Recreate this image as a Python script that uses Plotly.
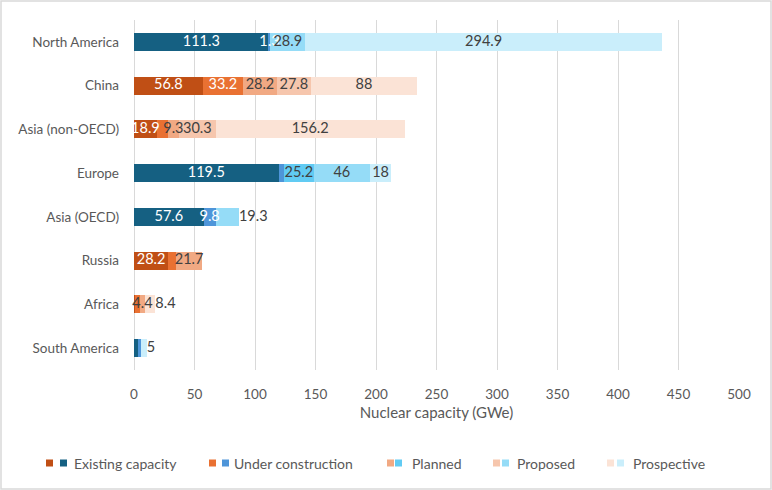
import plotly.graph_objects as go

# regions top to bottom, with the colour family Excel used for each
regions = ["North America", "China", "Asia (non-OECD)", "Europe",
           "Asia (OECD)", "Russia", "Africa", "South America"]
family = ["blue", "orange", "orange", "blue", "blue", "orange", "orange", "blue"]

stages = ["Existing capacity", "Under construction", "Planned", "Proposed", "Prospective"]

# GWe per stage, same order as regions
existing = [111.3, 56.8, 18.9, 119.5, 57.6, 28.2, 0.8, 4.1]
under_construction = [1.3, 33.2, 9.0, 4.1, 9.8, 6.5, 4.0, 1.4]
planned = [0, 28.2, 9.3, 25.2, 0, 21.7, 4.4, 0]
proposed = [28.9, 27.8, 30.3, 46, 19.3, 0, 0, 0]
prospective = [294.9, 88, 156.2, 18, 0, 0, 8.4, 5]
values = [existing, under_construction, planned, proposed, prospective]

# labels that do not show in the original, and labels sitting just past the bar end
hidden = {("Asia (non-OECD)", 1), ("Europe", 1), ("Russia", 1),
          ("Africa", 0), ("Africa", 1), ("South America", 0), ("South America", 1)}
past_end = {("Asia (OECD)", 3), ("Africa", 4), ("South America", 4)}

orange = ["#C04F15", "#E97132", "#F1A983", "#F6C6AD", "#FBE3D6"]
blue = ["#156082", "#4E95D9", "#61CBF3", "#95DCF7", "#CAEEFB"]
label_color = ["white", "white", "#404040", "#404040", "#404040"]

FONT = "Lato"
GREY = "#595959"

fig = go.Figure()
for i, stage in enumerate(stages):
    for fam, colors in (("orange", orange), ("blue", blue)):
        ys = [r for r, f in zip(regions, family) if f == fam]
        xs = [v for f, v in zip(family, values[i]) if f == fam]
        fig.add_trace(go.Bar(
            y=ys, x=xs, orientation="h", name=stage, showlegend=False,
            marker=dict(color=colors[i], line=dict(width=0)),
        ))

# data labels drawn on top of every bar, like Excel does
start = [0.0] * len(regions)
for i, stage in enumerate(stages):
    xs, ys, txt, pos = [], [], [], []
    for k, r in enumerate(regions):
        v = values[i][k]
        if v > 0 and (r, i) not in hidden:
            if (r, i) in past_end:
                xs.append(start[k] + v)
                pos.append("middle right")
            else:
                xs.append(start[k] + v / 2)
                pos.append("middle center")
            ys.append(r)
            txt.append(f"{v:g}")
        start[k] += v
    fig.add_trace(go.Scatter(
        x=xs, y=ys, text=txt, mode="text", textposition=pos,
        textfont=dict(family=FONT, size=14.5, color=label_color[i]),
        showlegend=False, hoverinfo="skip", cliponaxis=False,
    ))

# plot area in pixels, used to place the hand-made legend and border
L, R, T, B = 134, 33, 20, 120
W, H = 772, 490
pw, ph = W - L - R, H - T - B


def px(x):
    return (x - L) / pw


def py(y):
    return (H - B - y) / ph


shapes = [dict(type="rect", xref="paper", yref="paper",
               x0=px(1), x1=px(771), y0=py(489), y1=py(1),
               line=dict(color="#d9d9d9", width=1.5), layer="below")]
annotations = []
legend_items = [(46, 60, 72), (209, 222, 232), (387, 395, 410), (493, 502, 515), (607, 617, 631)]
for i, (xo, xb, xt) in enumerate(legend_items):
    for x0, c in ((xo, orange[i]), (xb, blue[i])):
        shapes.append(dict(type="rect", xref="paper", yref="paper",
                           x0=px(x0), x1=px(x0 + 7), y0=py(466.5), y1=py(459.5),
                           fillcolor=c, line=dict(width=0)))
    annotations.append(dict(xref="paper", yref="paper", x=px(xt), y=py(463),
                            text=stages[i], showarrow=False, xanchor="left", yanchor="middle",
                            font=dict(family=FONT, size=14, color=GREY)))

fig.update_layout(
    width=W, height=H,
    margin=dict(l=L, r=R, t=T, b=B),
    barmode="stack", bargap=0.59,
    plot_bgcolor="white", paper_bgcolor="white",
    font=dict(family=FONT, color=GREY),
    shapes=shapes, annotations=annotations,
    showlegend=False,
)
fig.update_xaxes(
    range=[0, 500], dtick=50, showgrid=True, gridcolor="#d9d9d9", gridwidth=1,
    zeroline=True, zerolinecolor="#d9d9d9", zerolinewidth=1, showline=False,
    tickfont=dict(family=FONT, size=13.5, color=GREY), ticklabelstandoff=14,
    title=dict(text="Nuclear capacity (GWe)", standoff=6,
               font=dict(family=FONT, size=15, color=GREY)),
)
fig.update_yaxes(
    categoryorder="array", categoryarray=regions, autorange="reversed",
    showgrid=False, showline=False, ticklabelstandoff=14,
    tickfont=dict(family=FONT, size=13.5, color=GREY),
)

# the page body has a default 8px margin; drop it so the chart fills the window
fig.write_html("out.html", config={"displayModeBar": False},
               post_script="document.body.style.margin='0';")
